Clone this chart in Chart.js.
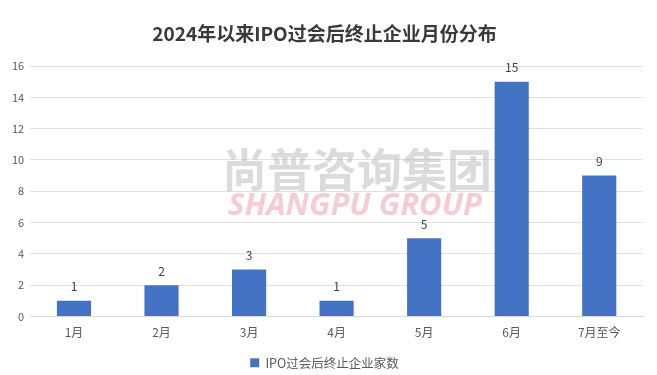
<!DOCTYPE html>
<html><head><meta charset="utf-8">
<script src="https://cdn.jsdelivr.net/npm/chart.js@4"></script>
<style>html,body{margin:0;padding:0;background:#fff}#wrap{width:657px;height:375px}</style>
</head><body><div id="wrap"><canvas id="c" width="657" height="375"></canvas></div>
<script>
const categories = ['1月','2月','3月','4月','5月','6月','7月至今'];
const seriesName = 'IPO过会后终止企业家数';
const values = [1, 2, 3, 1, 5, 15, 9];
const yTicks = [0, 2, 4, 6, 8, 10, 12, 14, 16];

const FONT = '"Noto Sans CJK SC", "Noto Sans", sans-serif';

const watermark = {
  id: 'watermark',
  beforeDatasetsDraw(chart) {
    const ctx = chart.ctx;
    ctx.save();
    ctx.textAlign = 'center';
    ctx.textBaseline = 'middle';
    ctx.fillStyle = 'rgba(190,190,190,0.55)';
    ctx.font = 'bold 45px ' + FONT;
    ctx.fillText('尚普咨询集团', 357, 170);
    ctx.fillStyle = 'rgba(240,170,180,0.6)';
    ctx.font = 'italic bold 31px "Open Sans", sans-serif';
    ctx.fillText('SHANGPU GROUP', 355, 206);
    ctx.restore();
  }
};

const dataLabels = {
  id: 'dataLabels',
  afterDatasetsDraw(chart) {
    const ctx = chart.ctx;
    const meta = chart.getDatasetMeta(0);
    ctx.save();
    ctx.fillStyle = '#404040';
    ctx.font = '12px ' + FONT;
    ctx.textAlign = 'center';
    ctx.textBaseline = 'bottom';
    meta.data.forEach((bar, i) => {
      ctx.fillText(String(values[i]), bar.x, bar.y - 8);
    });
    ctx.restore();
  }
};

new Chart(document.getElementById('c'), {
  type: 'bar',
  data: {
    labels: categories,
    datasets: [{
      label: seriesName,
      data: values,
      backgroundColor: '#4472C4',
      borderWidth: 0,
      barPercentage: 0.78,
      categoryPercentage: 0.5
    }]
  },
  options: {
    responsive: false,
    animation: false,
    layout: { padding: { left: 6, right: 14, top: 0, bottom: -4 } },
    plugins: {
      title: {
        display: true,
        text: '2024年以来IPO过会后终止企业月份分布',
        color: '#3a3a3a',
        font: { family: FONT, size: 19, weight: 'bold' },
        padding: { top: 22.6, bottom: 20.6 }
      },
      legend: {
        position: 'bottom',
        labels: {
          boxWidth: 9, boxHeight: 9,
          color: '#595959',
          font: { family: FONT, size: 12.5 },
          padding: 4
        }
      },
      tooltip: { enabled: false }
    },
    scales: {
      x: {
        grid: { display: false },
        border: { color: '#d9d9d9' },
        ticks: { color: '#595959', font: { family: FONT, size: 12 }, padding: 1 },
        afterFit(axis) { axis.height = 36; }
      },
      y: {
        min: 0, max: 16,
        afterBuildTicks(axis) { axis.ticks = yTicks.map(v => ({ value: v })); },
        grid: { color: '#e0e0e0', drawTicks: false },
        border: { display: false },
        ticks: { color: '#595959', font: { family: FONT, size: 11 }, padding: 6 }
      }
    }
  },
  plugins: [watermark, dataLabels]
});
</script></body></html>
